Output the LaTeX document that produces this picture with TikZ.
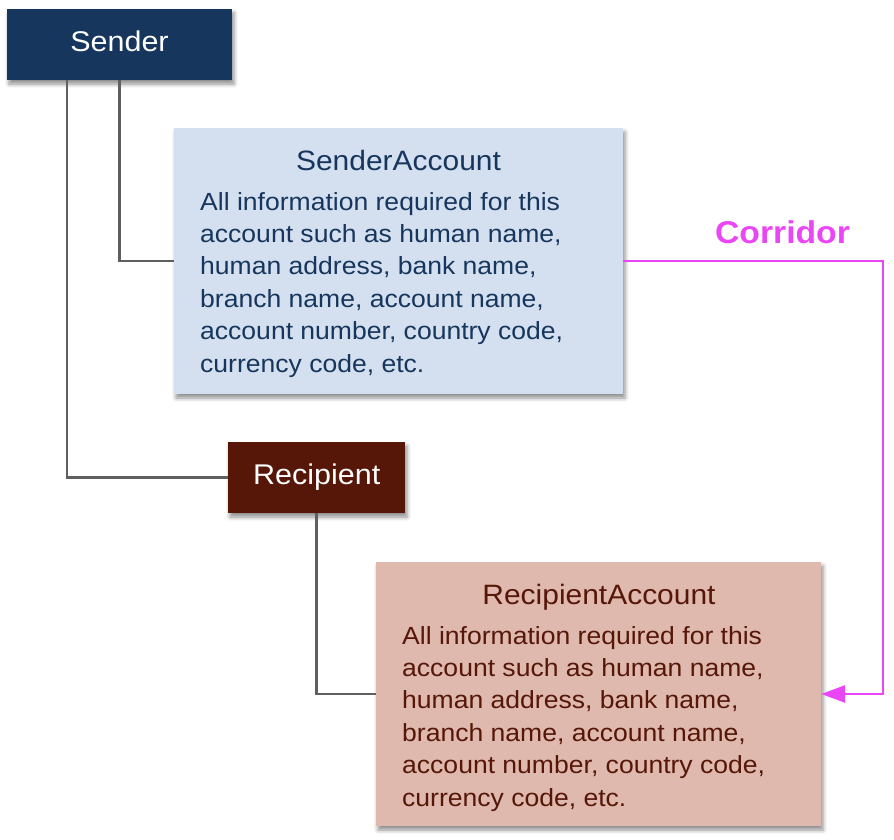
\documentclass[tikz,border=0pt]{standalone}
\usepackage{fontspec}
\setmainfont{Liberation Sans}[FakeStretch=1.07]
\usetikzlibrary{arrows.meta,shadows.blur}
\definecolor{navy}{HTML}{17365D}
\definecolor{lblue}{HTML}{D4E0EF}
\definecolor{brown}{HTML}{561709}
\definecolor{lbrown}{HTML}{DFB9AE}
\definecolor{conng}{HTML}{5F5F5F}
\definecolor{magent}{HTML}{EA46F5}
\tikzset{
  box/.style={rectangle, inner sep=0pt, blur shadow={shadow xshift=2pt, shadow yshift=-4pt, shadow blur radius=4pt, shadow opacity=45}},
  titletxt/.style={anchor=base, inner sep=0pt, font=\fontsize{28}{32}\selectfont},
  bodytxt/.style={anchor=base west, inner sep=0pt, font=\fontsize{24.8}{32}\selectfont},
  conn/.style={draw=conng, line width=2.2pt},
  corr/.style={draw=magent, line width=2.8pt, -{Triangle[length=24pt,width=17pt]}}
}
\begin{document}
\begin{tikzpicture}[x=1pt,y=-1pt]
\useasboundingbox (0,0) rectangle (894,840);
% boxes
\node[box, fill=navy, minimum width=225pt, minimum height=71pt] (sender) at (119.5,44.5) {};
\node[box, fill=lblue, minimum width=449pt, minimum height=266pt] (sacc) at (398.5,261) {};
\node[box, fill=brown, minimum width=177pt, minimum height=71pt] (recip) at (316.5,477.5) {};
\node[box, fill=lbrown, minimum width=445pt, minimum height=264pt] (racc) at (598.5,694) {};
% connectors
\coordinate (cr) at (883,0);
\draw[conn] ([xshift=-52.5pt]sender.south) |- (recip.west);
\draw[conn] (sender.south) |- (sacc.west);
\draw[conn] (recip.south) |- (racc.west);
\draw[corr] (sacc.east) -- (sacc.east -| cr) |- (racc.east);
% texts
\node[anchor=base, inner sep=0pt, text=white, font=\fontsize{28.5}{32}\selectfont] (sendert) at (119.5,52) {Sender};
\node[anchor=base, inner sep=0pt, text=white, font=\fontsize{28.5}{32}\selectfont] (recipt) at (316.7,484) {Recipient};
\node[titletxt, text=navy] (sacct) at (398.5,170) {SenderAccount};
\node[titletxt, text=brown] (racct) at (599,604) {RecipientAccount};
\foreach \t [count=\i from 0] in {{All information required for this},
  {account such as human name,},
  {human address, bank name,},
  {branch name, account name,},
  {account number, country code,},
  {currency code, etc.}} {
  \node[bodytxt, text=navy] (sl\i) at (200,210+32.4*\i) {\t};
  \node[bodytxt, text=brown] (rl\i) at (402,644+32.4*\i) {\t};
}
\node[anchor=base, inner sep=0pt, text=magent, font=\bfseries\fontsize{31.5}{36}\selectfont] (corrt) at (782.5,243) {Corridor};
\end{tikzpicture}
\end{document}
